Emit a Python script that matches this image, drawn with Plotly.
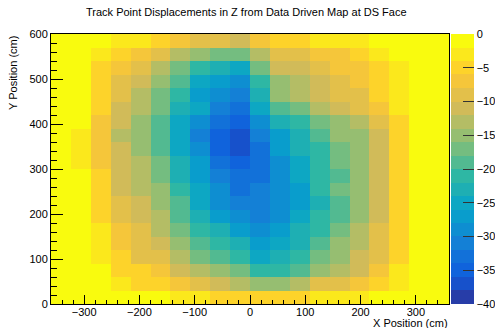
import plotly.graph_objects as go

title = "Track Point Displacements in Z from Data Driven Map at DS Face"
x_label = "X Position (cm)"
y_label = "Y Position (cm)"

# bin centres (cm)
x_centers = [-342, -306, -270, -234, -198, -162, -126, -90, -54, -18,
             18, 54, 90, 126, 162, 198, 234, 270, 306, 342]
y_centers = [15, 45, 75, 105, 135, 165, 195, 225, 255, 285,
             315, 345, 375, 405, 435, 465, 495, 525, 555, 585]

# displacement values (cm), rows from bottom (y=15) to top (y=585)
dz = [
    [-1, -1, -1, -1, -1, -1, -3, -3, -5, -5, -5, -5, -5, -3, -3, -3, -1, -1, -1, -1],
    [-1, -1, -1, -3, -5, -5, -7, -9, -11, -13, -15, -15, -13, -9, -9, -7, -5, -3, -1, -1],
    [-1, -1, -1, -5, -5, -7, -11, -13, -15, -17, -21, -21, -19, -15, -13, -11, -7, -3, -1, -1],
    [-1, -1, -3, -5, -9, -9, -13, -17, -19, -21, -25, -23, -21, -17, -15, -11, -9, -5, -1, -1],
    [-1, -1, -3, -7, -9, -11, -15, -19, -21, -23, -27, -25, -23, -19, -15, -13, -9, -5, -1, -1],
    [-1, -1, -3, -7, -9, -13, -17, -21, -23, -27, -29, -27, -23, -21, -17, -13, -9, -5, -1, -1],
    [-1, -1, -5, -9, -11, -13, -19, -23, -27, -29, -31, -29, -25, -21, -19, -15, -11, -5, -1, -1],
    [-1, -1, -5, -9, -11, -15, -19, -25, -29, -31, -31, -29, -27, -23, -19, -15, -11, -5, -1, -1],
    [-1, -1, -5, -11, -13, -15, -21, -25, -29, -33, -31, -29, -27, -21, -17, -15, -11, -5, -1, -1],
    [-1, -1, -5, -11, -13, -17, -23, -27, -31, -33, -33, -29, -25, -21, -19, -15, -11, -5, -1, -1],
    [-1, -3, -7, -11, -13, -17, -23, -27, -33, -35, -33, -29, -25, -21, -17, -15, -11, -5, -1, -1],
    [-1, -3, -7, -11, -15, -19, -25, -29, -35, -37, -33, -27, -23, -21, -17, -15, -11, -5, -1, -1],
    [-1, -3, -7, -13, -15, -19, -25, -31, -35, -37, -31, -27, -23, -19, -15, -15, -11, -5, -1, -1],
    [-1, -1, -7, -11, -15, -19, -25, -29, -33, -35, -29, -23, -21, -17, -15, -13, -9, -5, -1, -1],
    [-1, -1, -5, -11, -13, -17, -23, -25, -31, -33, -25, -19, -17, -13, -11, -9, -7, -3, -1, -1],
    [-1, -1, -5, -9, -13, -17, -21, -27, -29, -31, -23, -15, -13, -11, -9, -9, -5, -3, -1, -1],
    [-1, -1, -5, -9, -11, -15, -19, -25, -27, -29, -21, -15, -13, -11, -9, -7, -5, -3, -1, -1],
    [-1, -1, -5, -7, -9, -13, -17, -21, -23, -25, -17, -11, -11, -9, -7, -7, -5, -3, -1, -1],
    [-1, -1, -3, -5, -7, -9, -13, -15, -17, -17, -13, -9, -9, -7, -7, -5, -3, -1, -1, -1],
    [-1, -1, -1, -3, -3, -5, -7, -9, -9, -11, -7, -5, -5, -3, -3, -3, -1, -1, -1, -1],
]

z_min, z_max = -40, 0
n_levels = 20
cbar_ticks = [0, -5, -10, -15, -20, -25, -30, -35, -40]

# ROOT kBird palette
stops = [0.0, 0.125, 0.25, 0.375, 0.5, 0.625, 0.75, 0.875, 1.0]
red = [0.2082, 0.0592, 0.0780, 0.0232, 0.1802, 0.5301, 0.8186, 0.9956, 0.9764]
green = [0.1664, 0.3599, 0.5041, 0.6419, 0.7178, 0.7492, 0.7328, 0.7862, 0.9832]
blue = [0.5293, 0.8684, 0.8385, 0.7914, 0.6425, 0.4662, 0.3499, 0.1968, 0.0539]


def bird(f):
    for i in range(len(stops) - 1):
        if f <= stops[i + 1]:
            t = (f - stops[i]) / (stops[i + 1] - stops[i])
            r = red[i] + t * (red[i + 1] - red[i])
            g = green[i] + t * (green[i + 1] - green[i])
            b = blue[i] + t * (blue[i + 1] - blue[i])
            return "rgb(%d,%d,%d)" % (round(r * 255), round(g * 255), round(b * 255))
    return "rgb(249,251,14)"


colorscale = []
for k in range(n_levels):
    idx = int((k + 0.99) * 255 / n_levels)
    c = bird(min(idx / 254.0, 1.0))
    colorscale.append([k / n_levels, c])
    colorscale.append([(k + 1) / n_levels, c])

font = "Liberation Sans, Arial, Helvetica, sans-serif"

fig = go.Figure(go.Heatmap(
    x=x_centers, y=y_centers, z=dz,
    zmin=z_min, zmax=z_max, colorscale=colorscale,
    colorbar=dict(
        x=1.005, xanchor="left", y=0.5, yanchor="middle",
        len=1, lenmode="fraction", thickness=23, thicknessmode="pixels",
        xpad=0, ypad=0, outlinewidth=0,
        tickvals=cbar_ticks, ticks="inside", ticklen=11, tickcolor="#333",
        tickfont=dict(family=font, size=11, color="black"),
    ),
    hoverinfo="skip",
))

axis_common = dict(
    showline=True, linecolor="black", linewidth=1, mirror=True,
    ticks="inside", tickcolor="black", showgrid=False, zeroline=False,
    tickfont=dict(family=font, size=11, color="black"),
    automargin=False,
)

fig.update_xaxes(range=[-360, 360], tickvals=[-300, -200, -100, 0, 100, 200, 300],
                 ticklen=9, ticklabelstandoff=-2,
                 minor=dict(ticks="inside", dtick=20, tick0=0, ticklen=4,
                            tickcolor="black", showgrid=False),
                 **axis_common)
fig.update_yaxes(range=[0, 600], tickvals=[0, 100, 200, 300, 400, 500, 600],
                 ticklen=12, minor=dict(ticks="inside", dtick=20, tick0=0, ticklen=6,
                                        tickcolor="black", showgrid=False),
                 **axis_common)

fig.update_layout(
    width=495, height=328,
    margin=dict(l=51, r=46, t=34, b=24, autoexpand=False),
    paper_bgcolor="white", plot_bgcolor="white",
    font=dict(family=font, size=11, color="black"),
    annotations=[
        dict(text=title, xref="paper", yref="paper", x=0.49, y=1, yshift=22,
             xanchor="center", yanchor="middle", showarrow=False,
             font=dict(family=font, size=11, color="black")),
        dict(text=x_label, xref="paper", yref="paper", x=1, y=0, yshift=-19,
             xanchor="right", yanchor="middle", showarrow=False, borderpad=0,
             font=dict(family=font, size=11, color="black")),
        dict(text=y_label, xref="paper", yref="paper", x=0, xshift=-38, y=1,
             xanchor="center", yanchor="top", textangle=-90, showarrow=False,
             font=dict(family=font, size=11, color="black")),
    ],
)

fig.write_html("out.html")
